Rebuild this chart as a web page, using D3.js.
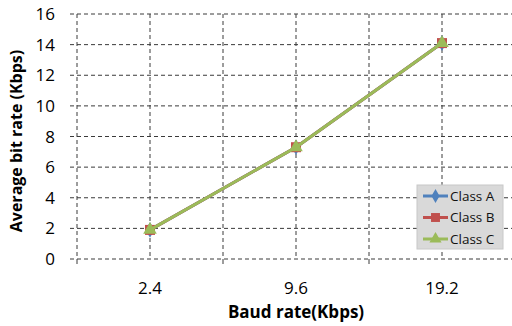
<!DOCTYPE html>
<html>
<head>
<meta charset="utf-8">
<script src="https://cdn.jsdelivr.net/npm/d3@7"></script>
<style>
  body { margin: 0; background: #fff; }
  text { font-family: "Open Sans", "Noto Sans", sans-serif; fill: #000; }
</style>
</head>
<body>
<div id="chart"></div>
<script>
// data
const baudRates = ["2.4", "9.6", "19.2"];
const classA = [1.9, 7.3, 14.1];
const classB = [1.9, 7.3, 14.1];
const classC = [1.9, 7.3, 14.1];
const seriesNames = ["Class A", "Class B", "Class C"];
const yTicks = [0, 2, 4, 6, 8, 10, 12, 14, 16];

const W = 512, H = 326;
const margin = { top: 14, right: -3, bottom: 67, left: 77 };
const w = W - margin.left - margin.right,
  h = H - margin.top - margin.bottom;

const colors = ["#4f81bd", "#c0504d", "#9bbb59"];
const symbols = [d3.symbolDiamond, d3.symbolSquare, d3.symbolTriangle];
const symSizes = [70, 100, 80];

const series = [classA, classB, classC].map((vals, i) =>
  vals.map((v, j) => ({ cat: baudRates[j], value: v }))
);

const svg = d3.select("#chart").append("svg")
  .attr("width", W).attr("height", H);
const g = svg.append("g")
  .attr("transform", "translate(" + margin.left + "," + margin.top + ")");

const x = d3.scaleBand().domain(baudRates).range([0, w]);
const y = d3.scaleLinear().domain([0, 16]).range([h, 0]);

const dash = "4,3";
const gridColor = "#3a3a3a";

// horizontal gridlines (extend a bit to the left like tick marks)
g.selectAll(".hgrid").data(yTicks).enter().append("line")
  .attr("x1", -7).attr("x2", w)
  .attr("y1", d => y(d)).attr("y2", d => y(d))
  .style("stroke", gridColor).style("stroke-dasharray", dash);

// vertical gridlines at band edges and centres
const vlines = [];
baudRates.forEach(c => {
  vlines.push(x(c));
  vlines.push(x(c) + x.bandwidth() / 2);
});
g.selectAll(".vgrid").data(vlines).enter().append("line")
  .attr("x1", d => d).attr("x2", d => d)
  .attr("y1", 0).attr("y2", h)
  .style("stroke", gridColor).style("stroke-dasharray", dash);

// small tick marks below the axis at band edges
g.selectAll(".xtick").data(baudRates.map(c => x(c))).enter().append("line")
  .attr("x1", d => d).attr("x2", d => d)
  .attr("y1", h).attr("y2", h + 5)
  .style("stroke", gridColor);

// y tick labels
g.selectAll(".ylab").data(yTicks).enter().append("text")
  .attr("x", -22).attr("y", d => y(d))
  .attr("dy", "0.36em")
  .attr("text-anchor", "end")
  .style("font-size", "17px")
  .text(d => d);

// x tick labels
g.selectAll(".xlab").data(baudRates).enter().append("text")
  .attr("x", d => x(d) + x.bandwidth() / 2)
  .attr("y", h + 35)
  .attr("text-anchor", "middle")
  .style("font-size", "17px")
  .text(d => d);

// axis titles
svg.append("text")
  .attr("x", 296).attr("y", 318)
  .attr("text-anchor", "middle")
  .style("font-size", "17px").style("font-weight", "bold")
  .text("Baud rate(Kbps)");

svg.append("text")
  .attr("transform", "translate(22,141) rotate(-90)")
  .attr("text-anchor", "middle")
  .style("font-size", "16px").style("font-weight", "bold")
  .text("Average bit rate (Kbps)");

// lines
const line = d3.line()
  .x(d => x(d.cat) + x.bandwidth() / 2)
  .y(d => y(d.value));

series.forEach((s, i) => {
  g.append("path").datum(s)
    .attr("d", line)
    .style("fill", "none")
    .style("stroke", colors[i])
    .style("stroke-width", 3);
  g.selectAll(".pt" + i).data(s).enter().append("path")
    .attr("d", d3.symbol().type(symbols[i]).size(symSizes[i]))
    .attr("transform", d => "translate(" + (x(d.cat) + x.bandwidth() / 2) + "," + y(d.value) + ")")
    .style("fill", colors[i]);
});

// legend
const lg = svg.append("g").attr("transform", "translate(417,185)");
lg.append("rect").attr("width", 86).attr("height", 64)
  .style("fill", "#d9d9d9").style("stroke", "#c8c8c8");
seriesNames.forEach((name, i) => {
  const yy = 11 + i * 21.5;
  lg.append("line").attr("x1", 6).attr("x2", 31).attr("y1", yy).attr("y2", yy)
    .style("stroke", colors[i]).style("stroke-width", 3);
  lg.append("path")
    .attr("d", d3.symbol().type(symbols[i]).size(symSizes[i] * 0.8))
    .attr("transform", "translate(18.5," + yy + ")")
    .style("fill", colors[i]);
  lg.append("text").attr("x", 33).attr("y", yy).attr("dy", "0.35em")
    .style("font-size", "13.5px").style("fill", "#111")
    .text(name);
});
</script>
</body>
</html>
